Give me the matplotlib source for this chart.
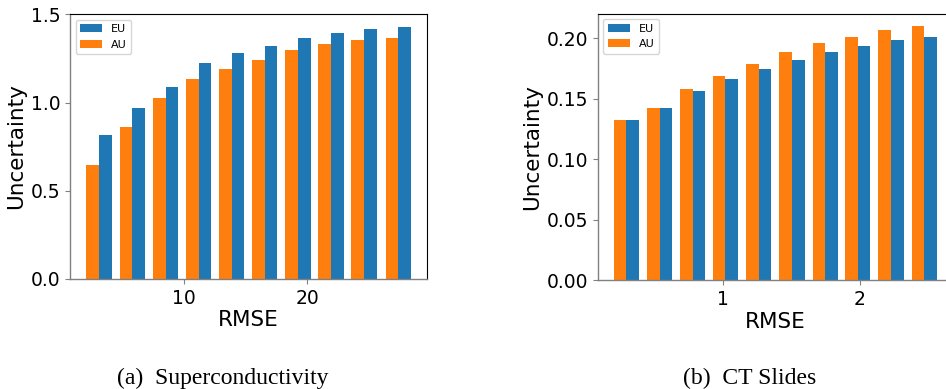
import numpy as np
import matplotlib
matplotlib.use("Agg")
import matplotlib.pyplot as plt

# (a) Superconductivity: RMSE bin centres and mean uncertainty per bin
sc_rmse = [3.09, 5.81, 8.51, 11.2, 13.88, 16.56, 19.27, 21.95, 24.63, 27.4]
sc_au = [0.648, 0.859, 1.027, 1.131, 1.189, 1.242, 1.300, 1.332, 1.355, 1.368]
sc_eu = [0.814, 0.968, 1.089, 1.225, 1.283, 1.323, 1.368, 1.394, 1.417, 1.430]

# (b) CT Slides
ct_rmse = [0.288, 0.532, 0.776, 1.015, 1.259, 1.503, 1.747, 1.986, 2.23, 2.474]
ct_au = [0.1320, 0.1425, 0.1577, 0.1687, 0.1789, 0.1885, 0.1956, 0.2011, 0.2069, 0.2097]
ct_eu = [0.1320, 0.1425, 0.1566, 0.1662, 0.1742, 0.1819, 0.1885, 0.1934, 0.1984, 0.2006]

captions = ["(a)  Superconductivity", "(b)  CT Slides"]


def draw_panel(ax, rmse, au, eu):
    x = np.asarray(rmse)
    w = 0.38 * np.mean(np.diff(x))
    ax.bar(x - w / 2, au, width=w, color="#ff7f0e", label="AU")
    ax.bar(x + w / 2, eu, width=w, color="#1f77b4", label="EU")
    ax.set_xlabel("RMSE", fontsize=15.5, labelpad=2)
    ax.set_ylabel("Uncertainty", fontsize=15.5, labelpad=3)
    ax.tick_params(labelsize=13.5, color="0.5")
    for s in ["left", "bottom"]:
        ax.spines[s].set_color("0.5")
        ax.spines[s].set_linewidth(1.0)
    h, l = ax.get_legend_handles_labels()
    ax.legend(h[::-1], l[::-1], loc="upper left", fontsize=8)


fig = plt.figure(figsize=(9.46, 3.89), dpi=100)
ax1 = fig.add_axes([0.074, 0.2828, 0.3774, 0.6812])
ax2 = fig.add_axes([0.6318, 0.2802, 0.3756, 0.6846])

draw_panel(ax1, sc_rmse, sc_au, sc_eu)
draw_panel(ax2, ct_rmse, ct_au, ct_eu)
ax1.set_xticks([10, 20])
ax2.set_xticks([1, 2])
ax1.set_yticks([0.0, 0.5, 1.0, 1.5])

fig.text(223 / 946, 1 - 384 / 389, captions[0], ha="center", va="baseline",
         fontsize=17, family=["Liberation Serif", "DejaVu Serif"])
fig.text(750 / 946, 1 - 384 / 389, captions[1], ha="center", va="baseline",
         fontsize=17, family=["Liberation Serif", "DejaVu Serif"])

fig.savefig("out.png", dpi=100)
